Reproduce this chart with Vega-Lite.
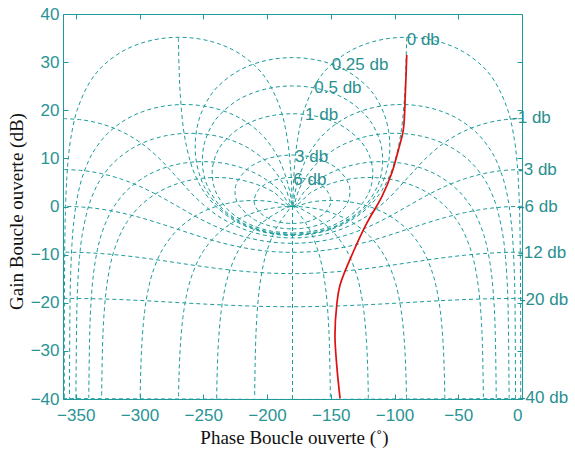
{
"$schema":"https://vega.github.io/schema/vega-lite/v6.json",
"width":459,"height":385,
"autosize":{"type":"none"},
"padding":{"left":63,"top":14,"right":53,"bottom":50},
"background":"white",
"config":{"view":{"stroke":null},"font":"Liberation Sans",
"axis":{"grid":false,"domainColor":"#1d9b9b","tickColor":"#1d9b9b","labelColor":"#2a9494","labelFont":"Liberation Sans","labelFontSize":17,"tickSize":-5,"domainWidth":1,"tickWidth":1,"zindex":1,"titleFont":"Liberation Serif","titleFontSize":19,"titleFontWeight":"normal","titleColor":"#111111"}},
"datasets":{
"grid":[
{"k":"m1","p":0,"g":18.27},{"k":"m1","p":-15,"g":18.0},{"k":"m1","p":-30,"g":17.17},{"k":"m1","p":-45,"g":15.7},{"k":"m1","p":-60,"g":13.42},{"k":"m1","p":-75,"g":10.11},{"k":"m1","p":-90,"g":5.87},{"k":"m1","p":-105,"g":1.62},{"k":"m1","p":-120,"g":-1.68},{"k":"m1","p":-135,"g":-3.96},{"k":"m1","p":-150,"g":-5.44},{"k":"m1","p":-165,"g":-6.26},{"k":"m1","p":-180,"g":-6.53},{"k":"m1","p":-195,"g":-6.26},{"k":"m1","p":-210,"g":-5.44},{"k":"m1","p":-225,"g":-3.96},{"k":"m1","p":-240,"g":-1.68},{"k":"m1","p":-255,"g":1.62},{"k":"m1","p":-270,"g":5.87},{"k":"m1","p":-285,"g":10.11},{"k":"m1","p":-300,"g":13.42},{"k":"m1","p":-315,"g":15.7},{"k":"m1","p":-330,"g":17.17},{"k":"m1","p":-345,"g":18.0},{"k":"m1","p":-360,"g":18.27},
{"k":"m3","p":0,"g":7.69},{"k":"m3","p":-15,"g":7.48},{"k":"m3","p":-30,"g":6.84},{"k":"m3","p":-45,"g":5.75},{"k":"m3","p":-60,"g":4.21},{"k":"m3","p":-75,"g":2.25},{"k":"m3","p":-90,"g":0.02},{"k":"m3","p":-105,"g":-2.21},{"k":"m3","p":-120,"g":-4.17},{"k":"m3","p":-135,"g":-5.71},{"k":"m3","p":-150,"g":-6.8},{"k":"m3","p":-165,"g":-7.44},{"k":"m3","p":-180,"g":-7.65},{"k":"m3","p":-195,"g":-7.44},{"k":"m3","p":-210,"g":-6.8},{"k":"m3","p":-225,"g":-5.71},{"k":"m3","p":-240,"g":-4.17},{"k":"m3","p":-255,"g":-2.21},{"k":"m3","p":-270,"g":0.02},{"k":"m3","p":-285,"g":2.25},{"k":"m3","p":-300,"g":4.21},{"k":"m3","p":-315,"g":5.75},{"k":"m3","p":-330,"g":6.84},{"k":"m3","p":-345,"g":7.48},{"k":"m3","p":-360,"g":7.69},
{"k":"m6","p":0,"g":0.04},{"k":"m6","p":-15,"g":-0.11},{"k":"m6","p":-30,"g":-0.55},{"k":"m6","p":-45,"g":-1.28},{"k":"m6","p":-60,"g":-2.26},{"k":"m6","p":-75,"g":-3.45},{"k":"m6","p":-90,"g":-4.74},{"k":"m6","p":-105,"g":-6.04},{"k":"m6","p":-120,"g":-7.23},{"k":"m6","p":-135,"g":-8.21},{"k":"m6","p":-150,"g":-8.94},{"k":"m6","p":-165,"g":-9.38},{"k":"m6","p":-180,"g":-9.53},{"k":"m6","p":-195,"g":-9.38},{"k":"m6","p":-210,"g":-8.94},{"k":"m6","p":-225,"g":-8.21},{"k":"m6","p":-240,"g":-7.23},{"k":"m6","p":-255,"g":-6.04},{"k":"m6","p":-270,"g":-4.74},{"k":"m6","p":-285,"g":-3.45},{"k":"m6","p":-300,"g":-2.26},{"k":"m6","p":-315,"g":-1.28},{"k":"m6","p":-330,"g":-0.55},{"k":"m6","p":-345,"g":-0.11},{"k":"m6","p":-360,"g":0.04},
{"k":"m12","p":0,"g":-9.49},{"k":"m12","p":-15,"g":-9.56},{"k":"m12","p":-30,"g":-9.78},{"k":"m12","p":-45,"g":-10.13},{"k":"m12","p":-60,"g":-10.59},{"k":"m12","p":-75,"g":-11.13},{"k":"m12","p":-90,"g":-11.72},{"k":"m12","p":-105,"g":-12.3},{"k":"m12","p":-120,"g":-12.84},{"k":"m12","p":-135,"g":-13.3},{"k":"m12","p":-150,"g":-13.65},{"k":"m12","p":-165,"g":-13.87},{"k":"m12","p":-180,"g":-13.95},{"k":"m12","p":-195,"g":-13.87},{"k":"m12","p":-210,"g":-13.65},{"k":"m12","p":-225,"g":-13.3},{"k":"m12","p":-240,"g":-12.84},{"k":"m12","p":-255,"g":-12.3},{"k":"m12","p":-270,"g":-11.72},{"k":"m12","p":-285,"g":-11.13},{"k":"m12","p":-300,"g":-10.59},{"k":"m12","p":-315,"g":-10.13},{"k":"m12","p":-330,"g":-9.78},{"k":"m12","p":-345,"g":-9.56},{"k":"m12","p":-360,"g":-9.49},
{"k":"m20","p":0,"g":-19.08},{"k":"m20","p":-30,"g":-19.2},{"k":"m20","p":-60,"g":-19.52},{"k":"m20","p":-90,"g":-19.96},{"k":"m20","p":-120,"g":-20.39},{"k":"m20","p":-150,"g":-20.71},{"k":"m20","p":-180,"g":-20.83},{"k":"m20","p":-210,"g":-20.71},{"k":"m20","p":-240,"g":-20.39},{"k":"m20","p":-270,"g":-19.96},{"k":"m20","p":-300,"g":-19.52},{"k":"m20","p":-330,"g":-19.2},{"k":"m20","p":-360,"g":-19.08},
{"k":"m40","p":0,"g":-39.91},{"k":"m40","p":-90,"g":-40},{"k":"m40","p":-180,"g":-40.09},{"k":"m40","p":-270,"g":-40},{"k":"m40","p":-360,"g":-39.91},
{"k":"m0","p":-90.5,"g":35.16},{"k":"m0","p":-91,"g":29.14},{"k":"m0","p":-92,"g":23.12},{"k":"m0","p":-95,"g":15.17},{"k":"m0","p":-100,"g":9.19},{"k":"m0","p":-105,"g":5.72},{"k":"m0","p":-110,"g":3.3},{"k":"m0","p":-120,"g":0},{"k":"m0","p":-135,"g":-3.01},{"k":"m0","p":-150,"g":-4.77},{"k":"m0","p":-165,"g":-5.72},{"k":"m0","p":-180,"g":-6.02},{"k":"m0","p":-195,"g":-5.72},{"k":"m0","p":-210,"g":-4.77},{"k":"m0","p":-225,"g":-3.01},{"k":"m0","p":-240,"g":0},{"k":"m0","p":-250,"g":3.3},{"k":"m0","p":-255,"g":5.72},{"k":"m0","p":-260,"g":9.19},{"k":"m0","p":-265,"g":15.17},{"k":"m0","p":-268,"g":23.12},{"k":"m0","p":-269,"g":29.14},{"k":"m0","p":-269.5,"g":35.16},
{"k":"q6","p":-180,"g":-3.53},{"k":"q6","p":-173.1,"g":-3.4},{"k":"q6","p":-165.9,"g":-2.97},{"k":"q6","p":-156.1,"g":-1.65},{"k":"q6","p":-151.2,"g":-0.14},{"k":"q6","p":-149.9,"g":1.26},{"k":"q6","p":-153.4,"g":3.49},{"k":"q6","p":-160.9,"g":4.95},{"k":"q6","p":-170.1,"g":5.77},{"k":"q6","p":-180,"g":6.04},{"k":"q6","p":-189.9,"g":5.77},{"k":"q6","p":-199.1,"g":4.95},{"k":"q6","p":-206.6,"g":3.49},{"k":"q6","p":-210.1,"g":1.26},{"k":"q6","p":-208.8,"g":-0.14},{"k":"q6","p":-203.9,"g":-1.65},{"k":"q6","p":-194.1,"g":-2.97},{"k":"q6","p":-186.9,"g":-3.4},{"k":"q6","p":-180,"g":-3.53},
{"k":"q3","p":-180,"g":-4.65},{"k":"q3","p":-172.8,"g":-4.55},{"k":"q3","p":-163.8,"g":-4.14},{"k":"q3","p":-156.1,"g":-3.49},{"k":"q3","p":-149.9,"g":-2.7},{"k":"q3","p":-137.5,"g":0.43},{"k":"q3","p":-134.9,"g":3.03},{"k":"q3","p":-136.5,"g":5.04},{"k":"q3","p":-144.7,"g":7.81},{"k":"q3","p":-155.6,"g":9.48},{"k":"q3","p":-167.6,"g":10.4},{"k":"q3","p":-180,"g":10.69},{"k":"q3","p":-192.4,"g":10.4},{"k":"q3","p":-204.4,"g":9.48},{"k":"q3","p":-215.3,"g":7.81},{"k":"q3","p":-223.5,"g":5.04},{"k":"q3","p":-225.1,"g":3.03},{"k":"q3","p":-222.5,"g":0.43},{"k":"q3","p":-210.1,"g":-2.7},{"k":"q3","p":-203.9,"g":-3.49},{"k":"q3","p":-196.2,"g":-4.14},{"k":"q3","p":-187.2,"g":-4.55},{"k":"q3","p":-180,"g":-4.65},
{"k":"q1","p":-180,"g":-5.53},{"k":"q1","p":-164.1,"g":-5.15},{"k":"q1","p":-153.8,"g":-4.46},{"k":"q1","p":-145.3,"g":-3.56},{"k":"q1","p":-135,"g":-1.94},{"k":"q1","p":-128.3,"g":-0.36},{"k":"q1","p":-121.1,"g":2.34},{"k":"q1","p":-118.1,"g":4.5},{"k":"q1","p":-117.1,"g":7.73},{"k":"q1","p":-120.4,"g":11.01},{"k":"q1","p":-125.7,"g":13.29},{"k":"q1","p":-138.3,"g":16.28},{"k":"q1","p":-151.9,"g":18.03},{"k":"q1","p":-165.9,"g":18.97},{"k":"q1","p":-180,"g":19.27},{"k":"q1","p":-194.1,"g":18.97},{"k":"q1","p":-208.1,"g":18.03},{"k":"q1","p":-221.7,"g":16.28},{"k":"q1","p":-234.3,"g":13.29},{"k":"q1","p":-239.6,"g":11.01},{"k":"q1","p":-242.9,"g":7.73},{"k":"q1","p":-241.9,"g":4.5},{"k":"q1","p":-238.9,"g":2.34},{"k":"q1","p":-231.7,"g":-0.36},{"k":"q1","p":-225,"g":-1.94},{"k":"q1","p":-214.7,"g":-3.56},{"k":"q1","p":-206.2,"g":-4.46},{"k":"q1","p":-195.9,"g":-5.15},{"k":"q1","p":-180,"g":-5.53},
{"k":"q05","p":-180,"g":-5.78},{"k":"q05","p":-163.6,"g":-5.4},{"k":"q05","p":-149.7,"g":-4.42},{"k":"q05","p":-139.2,"g":-3.16},{"k":"q05","p":-128.4,"g":-1.21},{"k":"q05","p":-121.7,"g":0.56},{"k":"q05","p":-113.2,"g":4.3},{"k":"q05","p":-110.2,"g":7.0},{"k":"q05","p":-109.3,"g":9.95},{"k":"q05","p":-111.1,"g":13.36},{"k":"q05","p":-116.5,"g":16.72},{"k":"q05","p":-122.9,"g":19.04},{"k":"q05","p":-136.6,"g":22.04},{"k":"q05","p":-151.0,"g":23.8},{"k":"q05","p":-165.4,"g":24.75},{"k":"q05","p":-180,"g":25.05},{"k":"q05","p":-194.6,"g":24.75},{"k":"q05","p":-209.0,"g":23.8},{"k":"q05","p":-223.4,"g":22.04},{"k":"q05","p":-237.1,"g":19.04},{"k":"q05","p":-243.5,"g":16.72},{"k":"q05","p":-248.9,"g":13.36},{"k":"q05","p":-250.7,"g":9.95},{"k":"q05","p":-249.8,"g":7.0},{"k":"q05","p":-246.8,"g":4.3},{"k":"q05","p":-238.3,"g":0.56},{"k":"q05","p":-231.6,"g":-1.21},{"k":"q05","p":-220.8,"g":-3.16},{"k":"q05","p":-210.3,"g":-4.42},{"k":"q05","p":-196.4,"g":-5.4},{"k":"q05","p":-180,"g":-5.78},
{"k":"q025","p":-180,"g":-5.9},{"k":"q025","p":-163.4,"g":-5.52},{"k":"q025","p":-149.3,"g":-4.54},{"k":"q025","p":-138.5,"g":-3.28},{"k":"q025","p":-128.0,"g":-1.45},{"k":"q025","p":-120.3,"g":0.44},{"k":"q025","p":-110.7,"g":4.18},{"k":"q025","p":-106.8,"g":6.89},{"k":"q025","p":-104.3,"g":9.86},{"k":"q025","p":-103.7,"g":12.72},{"k":"q025","p":-104.7,"g":15.76},{"k":"q025","p":-108.1,"g":19.21},{"k":"q025","p":-114.5,"g":22.6},{"k":"q025","p":-121.4,"g":24.92},{"k":"q025","p":-135.8,"g":27.93},{"k":"q025","p":-150.5,"g":29.69},{"k":"q025","p":-165.2,"g":30.63},{"k":"q025","p":-180,"g":30.94},{"k":"q025","p":-194.8,"g":30.63},{"k":"q025","p":-209.5,"g":29.69},{"k":"q025","p":-224.2,"g":27.93},{"k":"q025","p":-238.6,"g":24.92},{"k":"q025","p":-245.5,"g":22.6},{"k":"q025","p":-251.9,"g":19.21},{"k":"q025","p":-255.3,"g":15.76},{"k":"q025","p":-256.3,"g":12.72},{"k":"q025","p":-255.7,"g":9.86},{"k":"q025","p":-253.2,"g":6.89},{"k":"q025","p":-249.3,"g":4.18},{"k":"q025","p":-239.7,"g":0.44},{"k":"q025","p":-232.0,"g":-1.45},{"k":"q025","p":-221.5,"g":-3.28},{"k":"q025","p":-210.7,"g":-4.54},{"k":"q025","p":-196.6,"g":-5.52},{"k":"q025","p":-180,"g":-5.9},
{"k":"f1","p":-1.01,"g":-40},{"k":"f1","p":-1.1,"g":-20},{"k":"f1","p":-1.5,"g":-6.02},{"k":"f1","p":-2,"g":0},{"k":"f1","p":-3,"g":6.02},{"k":"f1","p":-4,"g":9.54},{"k":"f1","p":-6,"g":13.97},{"k":"f1","p":-11,"g":19.95},{"k":"f1","p":-21,"g":25.84},{"k":"f1","p":-31,"g":29.14},{"k":"f1","p":-46,"g":32.15},{"k":"f1","p":-61,"g":33.91},{"k":"f1","p":-76,"g":34.86},{"k":"f1","p":-91,"g":35.16},{"k":"f1","p":-106,"g":34.86},{"k":"f1","p":-121,"g":33.91},{"k":"f1","p":-136,"g":32.15},{"k":"f1","p":-151,"g":29.14},{"k":"f1","p":-161,"g":25.84},{"k":"f1","p":-171,"g":19.95},{"k":"f1","p":-176,"g":13.97},{"k":"f1","p":-178,"g":9.54},{"k":"f1","p":-179,"g":6.02},{"k":"f1","p":-180,"g":0},{"k":"f1","p":-181,"g":6.02},{"k":"f1","p":-182,"g":9.54},{"k":"f1","p":-184,"g":13.97},{"k":"f1","p":-189,"g":19.95},{"k":"f1","p":-199,"g":25.84},{"k":"f1","p":-209,"g":29.14},{"k":"f1","p":-224,"g":32.15},{"k":"f1","p":-239,"g":33.91},{"k":"f1","p":-254,"g":34.86},{"k":"f1","p":-269,"g":35.16},{"k":"f1","p":-284,"g":34.86},{"k":"f1","p":-299,"g":33.91},{"k":"f1","p":-314,"g":32.15},{"k":"f1","p":-329,"g":29.14},{"k":"f1","p":-339,"g":25.84},{"k":"f1","p":-349,"g":19.95},{"k":"f1","p":-354,"g":13.97},{"k":"f1","p":-356,"g":9.54},{"k":"f1","p":-357,"g":6.02},{"k":"f1","p":-358,"g":0},{"k":"f1","p":-358.5,"g":-6.02},{"k":"f1","p":-358.9,"g":-20},{"k":"f1","p":-358.99,"g":-40},
{"k":"f5","p":-5.05,"g":-40},{"k":"f5","p":-5.5,"g":-20},{"k":"f5","p":-6,"g":-13.97},{"k":"f5","p":-7,"g":-7.95},{"k":"f5","p":-8,"g":-4.43},{"k":"f5","p":-10,"g":0},{"k":"f5","p":-12,"g":2.91},{"k":"f5","p":-15,"g":5.98},{"k":"f5","p":-20,"g":9.45},{"k":"f5","p":-25,"g":11.87},{"k":"f5","p":-35,"g":15.17},{"k":"f5","p":-50,"g":18.18},{"k":"f5","p":-65,"g":19.94},{"k":"f5","p":-80,"g":20.89},{"k":"f5","p":-95,"g":21.19},{"k":"f5","p":-110,"g":20.89},{"k":"f5","p":-125,"g":19.94},{"k":"f5","p":-140,"g":18.18},{"k":"f5","p":-155,"g":15.17},{"k":"f5","p":-165,"g":11.87},{"k":"f5","p":-170,"g":9.45},{"k":"f5","p":-175,"g":5.98},{"k":"f5","p":-178,"g":2.91},{"k":"f5","p":-180,"g":0},{"k":"f5","p":-182,"g":2.91},{"k":"f5","p":-185,"g":5.98},{"k":"f5","p":-190,"g":9.45},{"k":"f5","p":-195,"g":11.87},{"k":"f5","p":-205,"g":15.17},{"k":"f5","p":-220,"g":18.18},{"k":"f5","p":-235,"g":19.94},{"k":"f5","p":-250,"g":20.89},{"k":"f5","p":-265,"g":21.19},{"k":"f5","p":-280,"g":20.89},{"k":"f5","p":-295,"g":19.94},{"k":"f5","p":-310,"g":18.18},{"k":"f5","p":-325,"g":15.17},{"k":"f5","p":-335,"g":11.87},{"k":"f5","p":-340,"g":9.45},{"k":"f5","p":-345,"g":5.98},{"k":"f5","p":-348,"g":2.91},{"k":"f5","p":-350,"g":0},{"k":"f5","p":-352,"g":-4.43},{"k":"f5","p":-353,"g":-7.95},{"k":"f5","p":-354,"g":-13.97},{"k":"f5","p":-354.5,"g":-20},{"k":"f5","p":-354.95,"g":-40},
{"k":"f10","p":-10.1,"g":-39.95},{"k":"f10","p":-11,"g":-19.95},{"k":"f10","p":-12,"g":-13.93},{"k":"f10","p":-13,"g":-10.41},{"k":"f10","p":-15,"g":-5.98},{"k":"f10","p":-20,"g":0},{"k":"f10","p":-25,"g":3.47},{"k":"f10","p":-30,"g":5.89},{"k":"f10","p":-40,"g":9.19},{"k":"f10","p":-55,"g":12.2},{"k":"f10","p":-70,"g":13.96},{"k":"f10","p":-85,"g":14.91},{"k":"f10","p":-100,"g":15.21},{"k":"f10","p":-115,"g":14.91},{"k":"f10","p":-130,"g":13.96},{"k":"f10","p":-145,"g":12.2},{"k":"f10","p":-160,"g":9.19},{"k":"f10","p":-170,"g":5.89},{"k":"f10","p":-175,"g":3.47},{"k":"f10","p":-180,"g":0},{"k":"f10","p":-185,"g":3.47},{"k":"f10","p":-190,"g":5.89},{"k":"f10","p":-200,"g":9.19},{"k":"f10","p":-215,"g":12.2},{"k":"f10","p":-230,"g":13.96},{"k":"f10","p":-245,"g":14.91},{"k":"f10","p":-260,"g":15.21},{"k":"f10","p":-275,"g":14.91},{"k":"f10","p":-290,"g":13.96},{"k":"f10","p":-305,"g":12.2},{"k":"f10","p":-320,"g":9.19},{"k":"f10","p":-330,"g":5.89},{"k":"f10","p":-335,"g":3.47},{"k":"f10","p":-340,"g":0},{"k":"f10","p":-345,"g":-5.98},{"k":"f10","p":-347,"g":-10.41},{"k":"f10","p":-348,"g":-13.93},{"k":"f10","p":-349,"g":-19.95},{"k":"f10","p":-349.9,"g":-39.95},
{"k":"f20","p":-20.2,"g":-39.82},{"k":"f20","p":-21,"g":-25.84},{"k":"f20","p":-22,"g":-19.82},{"k":"f20","p":-24,"g":-13.81},{"k":"f20","p":-27,"g":-8.96},{"k":"f20","p":-30,"g":-5.89},{"k":"f20","p":-35,"g":-2.42},{"k":"f20","p":-40,"g":0},{"k":"f20","p":-50,"g":3.3},{"k":"f20","p":-65,"g":6.31},{"k":"f20","p":-80,"g":8.07},{"k":"f20","p":-95,"g":9.02},{"k":"f20","p":-110,"g":9.32},{"k":"f20","p":-125,"g":9.02},{"k":"f20","p":-140,"g":8.07},{"k":"f20","p":-155,"g":6.31},{"k":"f20","p":-170,"g":3.3},{"k":"f20","p":-180,"g":0},{"k":"f20","p":-190,"g":3.3},{"k":"f20","p":-205,"g":6.31},{"k":"f20","p":-220,"g":8.07},{"k":"f20","p":-235,"g":9.02},{"k":"f20","p":-250,"g":9.32},{"k":"f20","p":-265,"g":9.02},{"k":"f20","p":-280,"g":8.07},{"k":"f20","p":-295,"g":6.31},{"k":"f20","p":-310,"g":3.3},{"k":"f20","p":-320,"g":0},{"k":"f20","p":-325,"g":-2.42},{"k":"f20","p":-330,"g":-5.89},{"k":"f20","p":-333,"g":-8.96},{"k":"f20","p":-336,"g":-13.81},{"k":"f20","p":-338,"g":-19.82},{"k":"f20","p":-339,"g":-25.84},{"k":"f20","p":-339.8,"g":-39.82},
{"k":"f30","p":-30.3,"g":-39.6},{"k":"f30","p":-31,"g":-29.14},{"k":"f30","p":-32,"g":-23.12},{"k":"f30","p":-34,"g":-17.11},{"k":"f30","p":-37,"g":-12.26},{"k":"f30","p":-40,"g":-9.19},{"k":"f30","p":-45,"g":-5.72},{"k":"f30","p":-50,"g":-3.3},{"k":"f30","p":-60,"g":0},{"k":"f30","p":-75,"g":3.01},{"k":"f30","p":-90,"g":4.77},{"k":"f30","p":-105,"g":5.72},{"k":"f30","p":-120,"g":6.02},{"k":"f30","p":-135,"g":5.72},{"k":"f30","p":-150,"g":4.77},{"k":"f30","p":-165,"g":3.01},{"k":"f30","p":-180,"g":0},{"k":"f30","p":-195,"g":3.01},{"k":"f30","p":-210,"g":4.77},{"k":"f30","p":-225,"g":5.72},{"k":"f30","p":-240,"g":6.02},{"k":"f30","p":-255,"g":5.72},{"k":"f30","p":-270,"g":4.77},{"k":"f30","p":-285,"g":3.01},{"k":"f30","p":-300,"g":0},{"k":"f30","p":-310,"g":-3.3},{"k":"f30","p":-315,"g":-5.72},{"k":"f30","p":-320,"g":-9.19},{"k":"f30","p":-323,"g":-12.26},{"k":"f30","p":-326,"g":-17.11},{"k":"f30","p":-328,"g":-23.12},{"k":"f30","p":-329,"g":-29.14},{"k":"f30","p":-329.7,"g":-39.6},
{"k":"f60","p":-60.5,"g":-39.93},{"k":"f60","p":-61,"g":-33.91},{"k":"f60","p":-62,"g":-27.89},{"k":"f60","p":-64,"g":-21.88},{"k":"f60","p":-67,"g":-17.03},{"k":"f60","p":-70,"g":-13.96},{"k":"f60","p":-75,"g":-10.49},{"k":"f60","p":-80,"g":-8.07},{"k":"f60","p":-90,"g":-4.77},{"k":"f60","p":-105,"g":-1.76},{"k":"f60","p":-120,"g":0},{"k":"f60","p":-135,"g":0.95},{"k":"f60","p":-150,"g":1.25},{"k":"f60","p":-165,"g":0.95},{"k":"f60","p":-180,"g":0},{"k":"f60","p":-195,"g":0.95},{"k":"f60","p":-210,"g":1.25},{"k":"f60","p":-225,"g":0.95},{"k":"f60","p":-240,"g":0},{"k":"f60","p":-255,"g":-1.76},{"k":"f60","p":-270,"g":-4.77},{"k":"f60","p":-280,"g":-8.07},{"k":"f60","p":-285,"g":-10.49},{"k":"f60","p":-290,"g":-13.96},{"k":"f60","p":-293,"g":-17.03},{"k":"f60","p":-296,"g":-21.88},{"k":"f60","p":-298,"g":-27.89},{"k":"f60","p":-299,"g":-33.91},{"k":"f60","p":-299.5,"g":-39.93},
{"k":"f90","p":-90.58,"g":-39.89},{"k":"f90","p":-91,"g":-35.16},{"k":"f90","p":-92,"g":-29.14},{"k":"f90","p":-94,"g":-23.13},{"k":"f90","p":-97,"g":-18.28},{"k":"f90","p":-100,"g":-15.21},{"k":"f90","p":-105,"g":-11.74},{"k":"f90","p":-110,"g":-9.32},{"k":"f90","p":-120,"g":-6.02},{"k":"f90","p":-135,"g":-3.01},{"k":"f90","p":-150,"g":-1.25},{"k":"f90","p":-165,"g":-0.3},{"k":"f90","p":-180,"g":0},{"k":"f90","p":-195,"g":-0.3},{"k":"f90","p":-210,"g":-1.25},{"k":"f90","p":-225,"g":-3.01},{"k":"f90","p":-240,"g":-6.02},{"k":"f90","p":-250,"g":-9.32},{"k":"f90","p":-255,"g":-11.74},{"k":"f90","p":-260,"g":-15.21},{"k":"f90","p":-263,"g":-18.28},{"k":"f90","p":-266,"g":-23.13},{"k":"f90","p":-268,"g":-29.14},{"k":"f90","p":-269,"g":-35.16},{"k":"f90","p":-269.42,"g":-39.89},
{"k":"f120","p":-120.5,"g":-39.93},{"k":"f120","p":-121,"g":-33.91},{"k":"f120","p":-122,"g":-27.89},{"k":"f120","p":-124,"g":-21.88},{"k":"f120","p":-127,"g":-17.03},{"k":"f120","p":-130,"g":-13.96},{"k":"f120","p":-135,"g":-10.49},{"k":"f120","p":-140,"g":-8.07},{"k":"f120","p":-150,"g":-4.77},{"k":"f120","p":-165,"g":-1.76},{"k":"f120","p":-180,"g":0},{"k":"f120","p":-195,"g":-1.76},{"k":"f120","p":-210,"g":-4.77},{"k":"f120","p":-220,"g":-8.07},{"k":"f120","p":-225,"g":-10.49},{"k":"f120","p":-230,"g":-13.96},{"k":"f120","p":-233,"g":-17.03},{"k":"f120","p":-236,"g":-21.88},{"k":"f120","p":-238,"g":-27.89},{"k":"f120","p":-239,"g":-33.91},{"k":"f120","p":-239.5,"g":-39.93},
{"k":"f150","p":-150.3,"g":-39.6},{"k":"f150","p":-151,"g":-29.14},{"k":"f150","p":-152,"g":-23.12},{"k":"f150","p":-154,"g":-17.11},{"k":"f150","p":-157,"g":-12.26},{"k":"f150","p":-160,"g":-9.19},{"k":"f150","p":-165,"g":-5.72},{"k":"f150","p":-170,"g":-3.3},{"k":"f150","p":-175,"g":-1.46},{"k":"f150","p":-180,"g":0},{"k":"f150","p":-185,"g":-1.46},{"k":"f150","p":-190,"g":-3.3},{"k":"f150","p":-195,"g":-5.72},{"k":"f150","p":-200,"g":-9.19},{"k":"f150","p":-203,"g":-12.26},{"k":"f150","p":-206,"g":-17.11},{"k":"f150","p":-208,"g":-23.12},{"k":"f150","p":-209,"g":-29.14},{"k":"f150","p":-209.7,"g":-39.6},
{"k":"f180","p":-180,"g":-40},{"k":"f180","p":-180,"g":0}
],
"curve":[
{"p":-90.4,"g":31.5},{"p":-91.5,"g":23.5},{"p":-93.1,"g":15.9},{"p":-97.0,"g":11.7},{"p":-102.2,"g":6.9},{"p":-110.0,"g":2.0},{"p":-121.8,"g":-3.5},{"p":-132.3,"g":-9.4},{"p":-142.7,"g":-16.3},{"p":-145.3,"g":-20.5},{"p":-146.7,"g":-26.7},{"p":-145.3,"g":-33.0},{"p":-142.7,"g":-39.9}
],
"labels":[
{"t":"0 db","p":-90.4,"g":34.6},{"t":"0.25 db","p":-149.3,"g":29.4},{"t":"0.5 db","p":-162.9,"g":24.6},{"t":"1 db","p":-170.2,"g":19.0},{"t":"3 db","p":-178,"g":10.3},{"t":"6 db","p":-179.4,"g":5.5},
{"t":"-1 db","p":-7.8,"g":18.4},{"t":"-3 db","p":-3.1,"g":7.6},{"t":"-6 db","p":-2.4,"g":-0.1},{"t":"-12 db","p":-3.1,"g":-9.7},{"t":"-20 db","p":-1.6,"g":-19.5},{"t":"-40 db","p":-1.6,"g":-39.8}
]},
"layer":[
{"data":{"name":"grid"},
 "mark":{"type":"line","interpolate":"catmull-rom","strokeDash":[4,3],"strokeWidth":1,"color":"#1d9b9b","clip":true},
 "encoding":{
  "x":{"field":"p","type":"quantitative","scale":{"domain":[-360,0],"nice":false,"zero":false},
       "axis":{"orient":"bottom","values":[-350,-300,-250,-200,-150,-100,-50,0],"labelPadding":13,"title":"Phase Boucle ouverte (˚)","titleX":231,"titleY":38,"titleAlign":"center","titleBaseline":"middle"}},
  "y":{"field":"g","type":"quantitative","scale":{"domain":[-40,40],"nice":false,"zero":false},
       "axis":{"orient":"left","values":[-40,-30,-20,-10,0,10,20,30,40],"labelPadding":9,"title":"Gain Boucle ouverte (dB)","titleX":-47,"titleY":197,"titleAngle":-90,"titleAlign":"center","titleBaseline":"middle"}},
  "detail":{"field":"k"},
  "order":{"value":null}}},
{"data":{"name":"curve"},
 "mark":{"type":"line","interpolate":"catmull-rom","color":"#dd1111","strokeWidth":1.7,"clip":true},
 "encoding":{
  "x":{"field":"p","type":"quantitative","axis":{"orient":"top","labels":false,"title":null,"values":[-350,-300,-250,-200,-150,-100,-50,0]}},
  "y":{"field":"g","type":"quantitative","axis":{"orient":"right","labels":false,"title":null,"values":[-40,-30,-20,-10,0,10,20,30,40]}},
  "order":{"value":null}}},
{"data":{"name":"labels"},
 "mark":{"type":"text","align":"left","baseline":"middle","fontSize":17,"font":"Liberation Sans","color":"#2a8f8f"},
 "encoding":{
  "x":{"field":"p","type":"quantitative","axis":null},
  "y":{"field":"g","type":"quantitative","axis":null},
  "text":{"field":"t"}}}
],
"resolve":{"axis":{"x":"independent","y":"independent"}}
}
